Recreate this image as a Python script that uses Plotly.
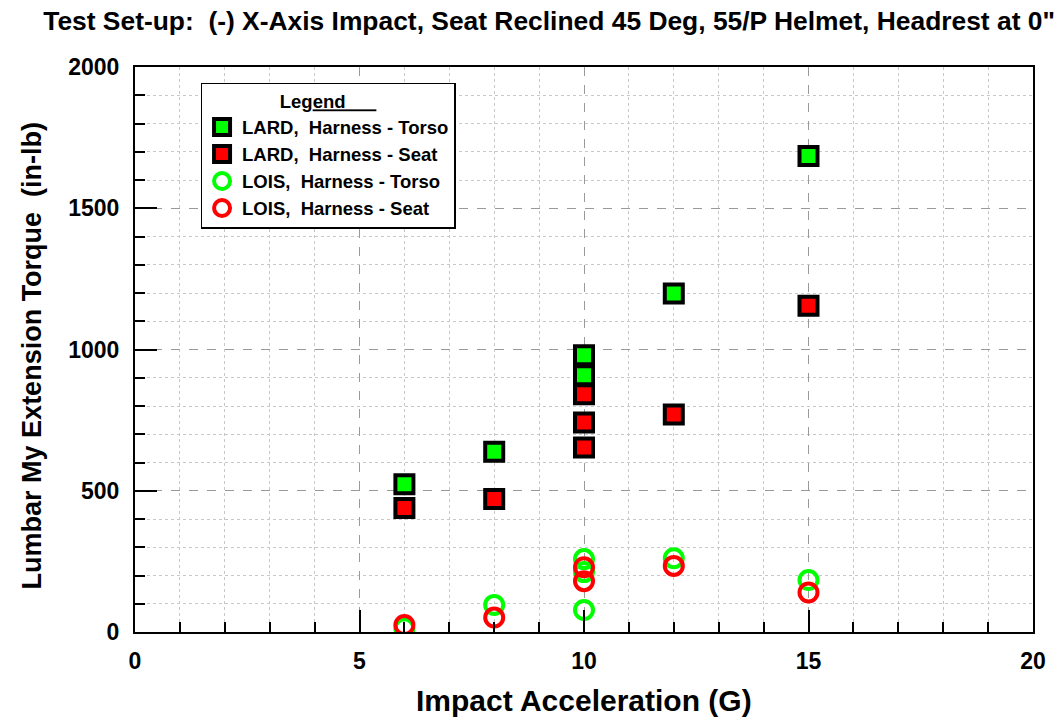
import plotly.graph_objects as go

# Impact acceleration (G) and lumbar My extension torque (in-lb) per test
lard_torso_g = [6, 8, 10, 10, 12, 15]
lard_torso_my = [523, 638, 980, 909, 1198, 1685]

lard_seat_g = [6, 8, 10, 10, 10, 12, 15]
lard_seat_my = [439, 471, 842, 742, 653, 770, 1155]

lois_torso_g = [6, 8, 10, 10, 10, 12, 15]
lois_torso_my = [13, 96, 258, 212, 78, 261, 184]

lois_seat_g = [6, 8, 10, 10, 12, 15]
lois_seat_my = [25, 51, 229, 180, 234, 140]

series_names = [
    "LARD,&nbsp; Harness - Torso",
    "LARD,&nbsp; Harness - Seat",
    "LOIS,&nbsp; Harness - Torso",
    "LOIS,&nbsp; Harness - Seat",
]

FONT = "Liberation Sans, Arial, sans-serif"
GREEN = "#00ff00"
RED = "#ff0000"

fig = go.Figure()

# LARD: filled squares with heavy black outline
for g, my, name, color in [
    (lard_torso_g, lard_torso_my, series_names[0], GREEN),
    (lard_seat_g, lard_seat_my, series_names[1], RED),
]:
    fig.add_trace(go.Scatter(
        x=g, y=my, mode="markers", name=name,
        marker=dict(symbol="square", size=18, color=color,
                    line=dict(color="black", width=4)),
    ))

# LOIS: open circles
for g, my, name, color in [
    (lois_torso_g, lois_torso_my, series_names[2], GREEN),
    (lois_seat_g, lois_seat_my, series_names[3], RED),
]:
    fig.add_trace(go.Scatter(
        x=g, y=my, mode="markers", name=name,
        marker=dict(symbol="circle-open", size=18, color=color,
                    line=dict(color=color, width=4)),
    ))

axis_common = dict(
    showline=True, linecolor="black", linewidth=2, mirror=True,
    ticks="inside", ticklen=22, tickwidth=2, tickcolor="black",
    showgrid=True, gridcolor="#9a9a9a", gridwidth=1, griddash="dash",
    zeroline=False,
    tickfont=dict(family=FONT, size=23, color="black", weight="bold"),
)

fig.update_xaxes(
    **axis_common,
    range=[0, 20], tick0=0, dtick=5,
    ticklabelstandoff=7,
    minor=dict(dtick=1, ticks="inside", ticklen=10, tickwidth=2,
               tickcolor="black", showgrid=True, gridcolor="#c8c8c8",
               griddash="dot", gridwidth=1),
)
fig.update_yaxes(
    **axis_common,
    range=[0, 2000], tick0=0, dtick=500,
    ticklabelstandoff=9,
    minor=dict(dtick=100, ticks="inside", ticklen=10, tickwidth=2,
               tickcolor="black", showgrid=True, gridcolor="#c8c8c8",
               griddash="dot", gridwidth=1),
)

# Axis titles
fig.add_annotation(
    text="Impact Acceleration (G)", xref="paper", yref="paper",
    x=0.5, y=-0.1204, xanchor="center", yanchor="middle", showarrow=False,
    font=dict(family=FONT, size=30, color="black", weight="bold"),
)
fig.add_annotation(
    text="Lumbar My Extension Torque&nbsp; (in-lb)", xref="paper", yref="paper",
    x=-0.1144, y=0.49, xanchor="center", yanchor="middle", showarrow=False,
    textangle=-90,
    font=dict(family=FONT, size=27, color="black", weight="bold"),
)

fig.update_layout(
    width=1058, height=719,
    margin=dict(l=135, r=23, t=67, b=87),
    paper_bgcolor="white", plot_bgcolor="white",
    font=dict(family=FONT, color="black"),
    title=dict(
        text="Test Set-up:&nbsp; (-) X-Axis Impact, Seat Reclined 45 Deg, 55/P Helmet, Headrest at 0\"",
        x=0.519, xref="container", xanchor="center",
        y=0.9708, yref="container", yanchor="middle",
        font=dict(family=FONT, size=26.4, color="black", weight="bold"),
    ),
    legend=dict(
        x=0.073, y=0.972, xanchor="left", yanchor="top",
        bgcolor="white", bordercolor="black", borderwidth=1.5,
        font=dict(family=FONT, size=18.5, color="black", weight="bold"),
        title=dict(text="Leg<u>end&nbsp;&nbsp;&nbsp;&nbsp;&nbsp;&nbsp;</u>", side="top center",
                   font=dict(family=FONT, size=18.5, color="black", weight="bold")),
        itemsizing="trace",
        tracegroupgap=0,
    ),
    showlegend=True,
)

fig.write_html("out.html")
